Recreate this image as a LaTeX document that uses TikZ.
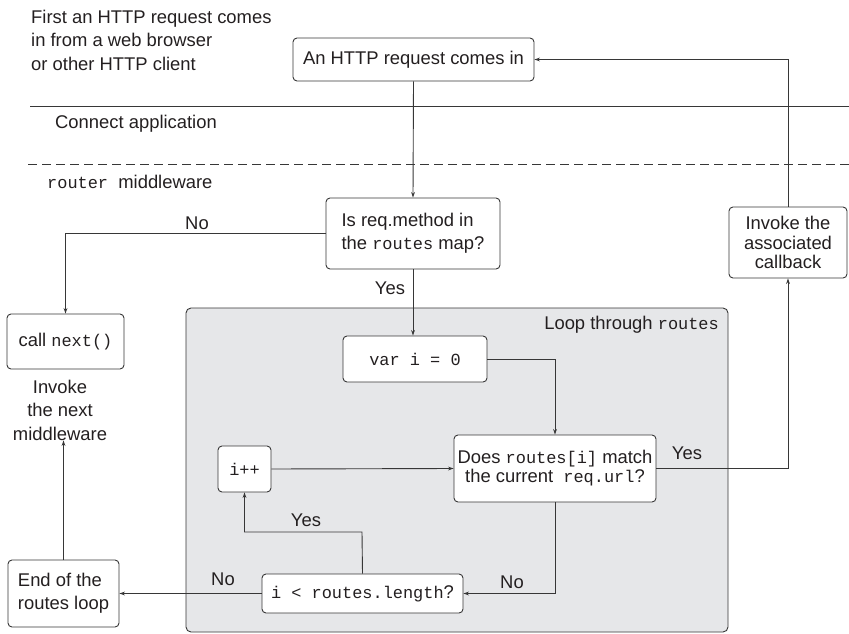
\documentclass[tikz,border=0pt]{standalone}
\usepackage{fontspec}
\setmainfont{Liberation Sans}
\setmonofont{Liberation Mono}[Scale=0.92]
\usetikzlibrary{positioning,arrows.meta,calc}
\definecolor{LineGray}{RGB}{55,55,55}
\definecolor{LoopFill}{RGB}{230,231,233}
\definecolor{InkBlack}{RGB}{35,31,32}
\newcommand{\rcode}[1]{{\ttfamily #1}}
\tikzset{
  flow/.style={-{Stealth[length=5.5pt,width=3.8pt]},line width=0.9pt,draw=LineGray},
  plainline/.style={line width=0.9pt,draw=LineGray},
  dashline/.style={line width=0.9pt,draw=LineGray,dash pattern=on 9pt off 5pt},
  box/.style={draw=LineGray,fill=white,line width=0.9pt,rounded corners=4pt,
    align=center,inner sep=0pt,text=InkBlack,font=\fontsize{18.4}{21}\selectfont},
  note/.style={text=InkBlack,inner sep=0pt,font=\fontsize{18.4}{23.5}\selectfont},
  loopbox/.style={draw=LineGray,fill=LoopFill,line width=0.9pt,rounded corners=5pt,
    inner sep=0pt}
}

\begin{document}
\begin{tikzpicture}[x=1pt,y=-1pt]
  \useasboundingbox (0,0) rectangle (849,634);
  \node[note,align=left,anchor=west] (intro) at (31,40) {First an HTTP request comes\\in from a web browser\\or other HTTP client};
  \node[box,minimum width=241pt,minimum height=43pt] (request) at (413.5,59.5) {An HTTP request comes in};
  \coordinate (appleft) at (30,106);
  \coordinate (appright) at (849,106);
  \coordinate (mwleft) at (28,164);
  \coordinate (mwright) at (849,164);
  \draw[plainline] (appleft) -- (appright);
  \draw[dashline] (mwleft) -- (mwright);
  \node[note,anchor=west] (applabel) at (55,124) {Connect application};
  \node[note,anchor=west] (routerlabel) at (47,182) {\rcode{router}~ middleware};
  \node[box,align=left,font=\fontsize{18.4}{23}\selectfont,minimum width=174pt,minimum height=71pt] (methodcheck) at (413,233.5) {Is req.method in\\the \rcode{routes} map?};
  \node[box,minimum width=117pt,minimum height=55pt] (callnext) at (65.5,341.5) {call \rcode{next()}};
  \node[note,align=center] (nextnote) at (60,410) {Invoke\\the next\\middleware};
  \node[box,font=\fontsize{18.4}{19.5}\selectfont,minimum width=118pt,minimum height=71pt] (callback) at (788,242.5) {Invoke the\\associated\\callback};
  \node[loopbox,minimum width=542pt,minimum height=324pt] (loop) at (457,470) {};
  \node[note,anchor=east] (looplabel) at (719,325) {Loop through \rcode{routes}};
  \node[box,minimum width=144pt,minimum height=46pt] (init) at (415,359) {\rcode{var i = 0}};
  \node[box,font=\fontsize{18.4}{19}\selectfont,minimum width=202pt,minimum height=67pt] (match) at (555,468.5) {Does \rcode{routes[i]} match\\the current~ \rcode{req.url}?};
  \node[box,minimum width=53pt,minimum height=46pt] (incr) at (244.5,469) {\rcode{i++}};
  \node[box,minimum width=201pt,minimum height=39pt] (lencheck) at (362.5,593.5) {\rcode{i < routes.length}?};
  \node[box,align=left,font=\fontsize{18.4}{23}\selectfont,minimum width=111pt,minimum height=67pt] (endloop) at (63.5,593.5) {End of the\\routes loop};
  \coordinate (yesbend) at (362,532);
  \draw[flow] (request.south) -- (methodcheck.north);
  \draw[flow] (methodcheck.west) -| (callnext.north);
  \draw[flow] (methodcheck.south) -- (methodcheck.south |- init.north);
  \draw[flow] (init.east) -| (match.north);
  \draw[flow] (incr.east) -- (match.west);
  \draw[flow] (match.east) -| (callback.south);
  \draw[flow] (callback.north) |- (request.east);
  \draw[flow] (match.south) |- (lencheck.east);
  \draw[flow] (lencheck.north) -- (yesbend) -| (incr.south);
  \draw[flow] (lencheck.west) -- (endloop.east);
  \draw[flow] (endloop.north) -- (endloop.north |- nextnote.south);
  \node[note] (nolabel) at (197,223) {No};
  \node[note] (yeslabel) at (390,288) {Yes};
  \node[note] (matchyes) at (687,453) {Yes};
  \node[note] (lenyes) at (306,520) {Yes};
  \node[note] (matchno) at (512,582) {No};
  \node[note] (lenno) at (223,579) {No};
\end{tikzpicture}
\end{document}
